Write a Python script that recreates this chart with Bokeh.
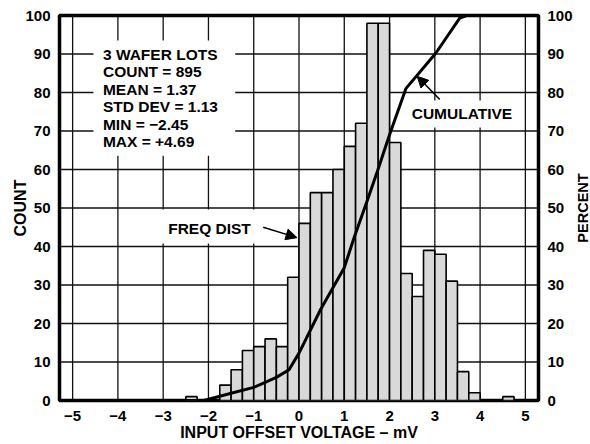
import math
from bokeh.plotting import figure
from bokeh.layouts import row
from bokeh.core.properties import value
from bokeh.models import Range1d, LinearAxis, FixedTicker, Label, BoxAnnotation, Arrow, NormalHead
from bokeh.embed import file_html
from bokeh.resources import INLINE

# ---- data ----
bin_left = [-2.50, -2.25, -2.00, -1.75, -1.50, -1.25, -1.00, -0.75, -0.50, -0.25,
            0.00, 0.25, 0.50, 0.75, 1.00, 1.25, 1.50, 1.75, 2.00, 2.25,
            2.50, 2.75, 3.00, 3.25, 3.50, 3.75, 4.00, 4.25, 4.50]
counts = [1, 0, 0, 4, 8, 13, 14, 16, 14, 32,
          46, 54, 54, 60, 66, 72, 98, 98, 67, 33,
          27, 39, 38, 31, 7.5, 2, 0, 0, 1]
bin_width = 0.25

cum_x = [-5.29, -2.1, -1.5, -1.0, -0.5, -0.22, 0.0, 0.48, 1.0, 1.22, 1.51, 1.73, 2.0, 2.36, 3.02, 3.55, 3.7, 5.29]
cum_pct = [0, 0, 1.9, 3.4, 6.0, 8.0, 12.3, 23.7, 34.5, 42.4, 52.0, 59.5, 69.0, 81.0, 90.2, 99.3, 100, 100]

xticks = [-5, -4, -3, -2, -1, 0, 1, 2, 3, 4, 5]
xtick_labels = ["\u22125", "\u22124", "\u22123", "\u22122", "\u22121", "0", "1", "2", "3", "4", "5"]
yticks = [0, 10, 20, 30, 40, 50, 60, 70, 80, 90, 100]

stats_text = "3 WAFER LOTS\nCOUNT = 895\nMEAN = 1.37\nSTD DEV = 1.13\nMIN = \u22122.45\nMAX = +4.69"
right_title = "PERCENT"

FONT = "Liberation Sans"
XMIN, XMAX = -5.29, 5.29

p = figure(width=575, height=444, x_range=Range1d(XMIN, XMAX), y_range=Range1d(0, 100),
           output_backend="svg", toolbar_location=None,
           min_border_left=59, min_border_right=36, min_border_top=15, min_border_bottom=44)
p.extra_y_ranges = {"pct": Range1d(0, 100)}
p.background_fill_color = "white"
p.outline_line_color = "black"
p.outline_line_width = 3.5
p.xgrid.visible = False
p.ygrid.visible = False

# grid lines drawn from the tick lists
p.segment(x0=xticks, y0=[0] * len(xticks), x1=xticks, y1=[100] * len(xticks),
          line_color="#111111", line_width=1.3)
p.segment(x0=[XMIN] * len(yticks), y0=yticks, x1=[XMAX] * len(yticks), y1=yticks,
          line_color="#111111", line_width=1.3)

# axes
right = LinearAxis(y_range_name="pct")
p.add_layout(right, "right")
for ax in (p.xaxis[0], p.yaxis[0], right):
    ax.axis_line_color = None
    ax.major_tick_line_color = None
    ax.minor_tick_line_color = None
    ax.major_tick_out = 0
    ax.major_tick_in = 0
    ax.minor_tick_out = 0
    ax.minor_tick_in = 0
    ax.major_label_text_font = FONT
    ax.major_label_text_font_style = "bold"
    ax.major_label_text_font_size = "15px"
    ax.major_label_text_color = "black"
    ax.axis_label_text_font = FONT
    ax.axis_label_text_font_style = "bold"
    ax.axis_label_text_font_size = "16px"
    ax.axis_label_text_color = "black"

p.xaxis.ticker = FixedTicker(ticks=xticks)
p.xaxis.major_label_overrides = dict(zip(xticks, xtick_labels))
p.xaxis.major_label_standoff = 10
p.xaxis.axis_label = "INPUT OFFSET VOLTAGE \u2013 mV"
p.xaxis.axis_label_standoff = 0

p.yaxis[0].ticker = FixedTicker(ticks=yticks)
p.yaxis[0].major_label_standoff = 9
p.yaxis[0].axis_label = "COUNT"
try:
    p.yaxis[0].axis_label_standoff = -7
except Exception:
    p.yaxis[0].axis_label_standoff = 0

right.ticker = FixedTicker(ticks=yticks)
right.major_label_standoff = 9

# histogram
bin_right = [b + bin_width for b in bin_left]
p.quad(left=bin_left, right=bin_right, top=counts, bottom=0,
       fill_color="#d9d9d9", line_color="black", line_width=1.6)

# cumulative curve
p.line(cum_x, cum_pct, y_range_name="pct", line_color="black", line_width=3)

# annotation backgrounds
p.add_layout(BoxAnnotation(left=-4.54, right=-1.41, bottom=63.6, top=93.5,
                           fill_color="white", fill_alpha=1, line_color=None))
p.add_layout(BoxAnnotation(left=-3.17, right=-0.88, bottom=40.8, top=49.6,
                           fill_color="white", fill_alpha=1, line_color=None))
p.add_layout(BoxAnnotation(left=2.36, right=4.92, bottom=70.9, top=77.9,
                           fill_color="white", fill_alpha=1, line_color=None))

lab_kw = dict(text_font=FONT, text_font_style="bold", text_font_size="15.5px", text_color="black")
p.add_layout(Label(x=-4.33, y=92.1, text=stats_text, text_baseline="top", text_align="left",
                   text_line_height=1.03, **lab_kw))
p.add_layout(Label(x=-2.89, y=44.8, text="FREQ DIST", text_baseline="middle", text_align="left", **lab_kw))
p.add_layout(Label(x=2.49, y=74.5, text="CUMULATIVE", text_baseline="middle", text_align="left", **lab_kw))

# arrows
p.add_layout(Arrow(x_start=-0.79, y_start=45.0, x_end=-0.044, y_end=42.3,
                   line_color="black", line_width=1.5,
                   end=NormalHead(size=11, fill_color="black", line_color="black")))
p.add_layout(Arrow(x_start=3.11, y_start=78.2, x_end=2.61, y_end=84.2,
                   line_color="black", line_width=1.5,
                   end=NormalHead(size=11, fill_color="black", line_color="black")))

# narrow strip on the right carrying the right-axis title (reads bottom to top)
q = figure(width=15, height=444, x_range=Range1d(0, 1), y_range=Range1d(0, 1),
           output_backend="svg", toolbar_location=None,
           min_border_left=0, min_border_right=0, min_border_top=0, min_border_bottom=0)
q.axis.visible = False
q.grid.visible = False
q.outline_line_color = None
q.text(x=[0.47], y=[0.50], text=[right_title], angle=math.pi / 2,
       text_align="center", text_baseline="middle",
       text_font=value(FONT), text_font_style="bold", text_font_size="14.5px", text_color="black")

layout = row(p, q, spacing=0)
open("out.html", "w").write(file_html(layout, INLINE))
